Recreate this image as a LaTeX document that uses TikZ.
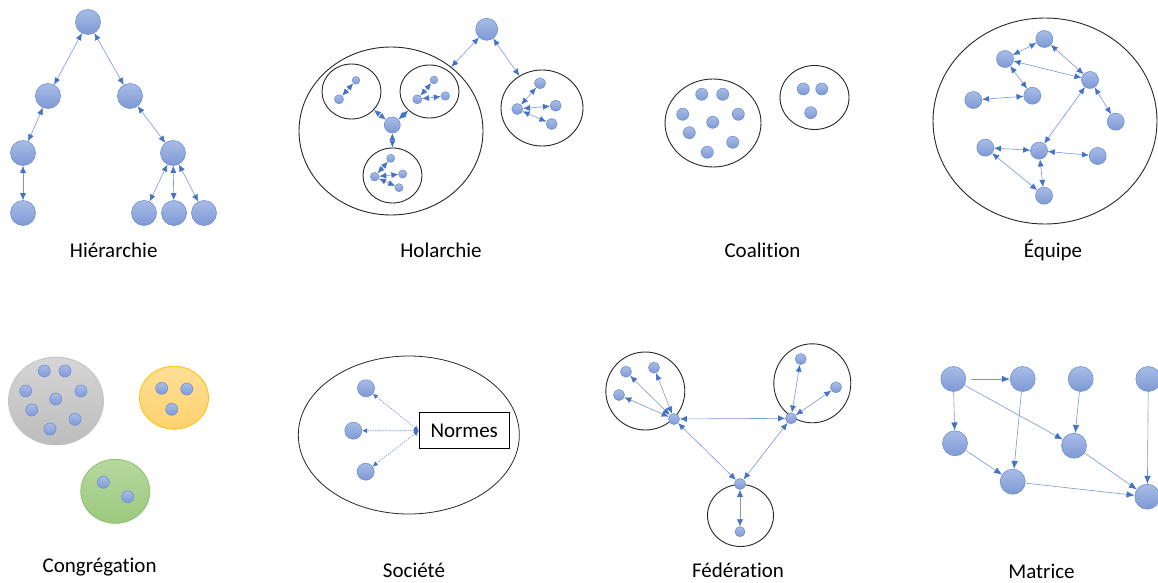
\documentclass[tikz,border=0pt]{standalone}
\usepackage{fontspec}
\setmainfont{Carlito}[Ligatures=NoCommon]
\usetikzlibrary{arrows.meta,shapes.geometric}
\definecolor{agenttop}{RGB}{168,188,230}
\definecolor{agentbot}{RGB}{126,153,212}
\definecolor{agentedge}{RGB}{112,144,210}
\definecolor{headblue}{RGB}{68,114,196}
\definecolor{lineblue}{RGB}{118,152,216}
\definecolor{graytop}{RGB}{214,214,214}
\definecolor{graybot}{RGB}{188,188,188}
\definecolor{yellowtop}{RGB}{255,222,150}
\definecolor{yellowbot}{RGB}{255,210,110}
\definecolor{yellowedge}{RGB}{255,192,0}
\definecolor{greentop}{RGB}{182,216,160}
\definecolor{greenbot}{RGB}{156,200,126}
\definecolor{greenedge}{RGB}{140,192,106}
\tikzset{
  agent/.style={circle,draw=agentedge,line width=0.6pt,top color=agenttop,bottom color=agentbot,inner sep=0pt,minimum size=#1},
  agent/.default=12pt,
  grp/.style={ellipse,draw=black!85,line width=0.9pt,inner sep=0pt},
  link/.style={draw=lineblue,line width=0.6pt,{Latex[length=7pt,width=6pt,color=headblue]}-{Latex[length=7pt,width=6pt,color=headblue]}},
  onelink/.style={draw=lineblue,line width=0.6pt,-{Latex[length=8pt,width=6.5pt,color=headblue]}},
  normlink/.style={draw=lineblue,line width=0.6pt,dash pattern=on 1.5pt off 1pt,{Latex[length=5pt,width=5pt,color=headblue]}-{Latex[length=5pt,width=5pt,color=headblue]}},
  lbl/.style={font=\fontsize{21}{25}\selectfont,anchor=base}
}
\begin{document}
\begin{tikzpicture}[x=1pt,y=-1pt]
\useasboundingbox (0,0) rectangle (1158,583);

\node[agent=25pt] (h0) at (88,22) {};
\node[agent=25pt] (h1) at (48,96) {};
\node[agent=25pt] (h2) at (130,96) {};
\node[agent=25pt] (h3) at (23,153) {};
\node[agent=25pt] (h4) at (173,153) {};
\node[agent=25pt] (h5) at (23,213) {};
\node[agent=25pt] (h6) at (144,213) {};
\node[agent=25pt] (h7) at (174,213) {};
\node[agent=25pt] (h8) at (204,213) {};
\draw[link] (h0) -- (h1);
\draw[link] (h0) -- (h2);
\draw[link] (h1) -- (h3);
\draw[link] (h3) -- (h5);
\draw[link] (h2) -- (h4);
\draw[link] (h4) -- (h6);
\draw[link] (h4) -- (h7);
\draw[link] (h4) -- (h8);
\node[lbl] (hlbl) at (113.7,257) {Hiérarchie};

\node[grp,minimum width=184pt,minimum height=168pt] (hbig) at (391,131) {};
\node[grp,minimum width=59pt,minimum height=55pt] (hgl) at (351.5,91.5) {};
\node[grp,minimum width=59pt,minimum height=53pt] (hgr) at (429.5,91.5) {};
\node[grp,minimum width=59pt,minimum height=55pt] (hgb) at (392.5,175.5) {};
\node[grp,minimum width=82pt,minimum height=76pt] (hgx) at (542,108) {};
\node[agent=22pt] (ha) at (486.7,29.3) {};
\node[agent=16pt] (hc) at (392.3,125) {};
\node[agent=7.5pt] (hl1) at (356,80.3) {};
\node[agent=9pt] (hl2) at (339,99.3) {};
\node[agent=7.5pt] (hr1) at (434,80) {};
\node[agent=9pt] (hr2) at (417.3,99.3) {};
\node[agent=8.5pt] (hr3) at (445.3,96) {};
\node[agent=8pt] (hb1) at (390.7,158.3) {};
\node[agent=8.5pt] (hb2) at (374.7,176.7) {};
\node[agent=8pt] (hb3) at (402.7,174) {};
\node[agent=8pt] (hb4) at (399,187.7) {};
\node[agent=11pt] (hx1) at (540,83.3) {};
\node[agent=11pt] (hx2) at (517.3,109) {};
\node[agent=11pt] (hx3) at (555.7,105.7) {};
\node[agent=11pt] (hx4) at (551.7,124) {};
\draw[link] (ha) -- (hbig);
\draw[link] (ha) -- (hgx);
\draw[link] (hc) -- (hgl);
\draw[link] (hc) -- (hgr);
\draw[link] (hc) -- (hgb);
\draw[link] (hl2) -- (hl1);
\draw[link] (hr2) -- (hr1);
\draw[link] (hr2) -- (hr3);
\draw[link] (hb2) -- (hb1);
\draw[link] (hb2) -- (hb3);
\draw[link] (hb2) -- (hb4);
\draw[link] (hx2) -- (hx1);
\draw[link] (hx2) -- (hx3);
\draw[link] (hx2) -- (hx4);
\node[lbl] (holbl) at (441,257) {Holarchie};

\node[grp,minimum width=96pt,minimum height=88pt] (cbig) at (713,123) {};
\node[grp,minimum width=69pt,minimum height=64pt] (csmall) at (814.5,97.5) {};
\node[agent] (c1) at (701.7,94.3) {};
\node[agent] (c2) at (722.7,94.3) {};
\node[agent] (c3) at (682.7,114.3) {};
\node[agent] (c4) at (738.3,114.3) {};
\node[agent] (c5) at (712.7,122.3) {};
\node[agent] (c6) at (689.3,132.7) {};
\node[agent] (c7) at (732.7,142.3) {};
\node[agent] (c8) at (707.3,152.3) {};
\node[agent] (c9) at (803.3,89) {};
\node[agent] (c10) at (821.7,89) {};
\node[agent] (c11) at (810.7,112.7) {};
\node[lbl] (clbl) at (762.5,257) {Coalition};

\node[grp,minimum width=224pt,minimum height=206pt] (ebig) at (1045,121) {};
\node[agent=17pt] (e1) at (1044.3,39) {};
\node[agent=17pt] (e2) at (1005,59) {};
\node[agent=17pt] (e3) at (1090,80) {};
\node[agent=17pt] (e4) at (973.3,100) {};
\node[agent=17pt] (e5) at (1032.3,95.7) {};
\node[agent=17pt] (e6) at (1115.7,121.7) {};
\node[agent=17pt] (e7) at (985.3,147.7) {};
\node[agent=17pt] (e8) at (1039,150.7) {};
\node[agent=17pt] (e9) at (1097.7,156) {};
\node[agent=17pt] (e10) at (1044,195.7) {};
\draw[link] (e1) -- (e2);
\draw[link] (e1) -- (e3);
\draw[link] (e2) -- (e3);
\draw[link] (e2) -- (e5);
\draw[link] (e4) -- (e5);
\draw[link] (e3) -- (e6);
\draw[link] (e3) -- (e8);
\draw[link] (e7) -- (e8);
\draw[link] (e8) -- (e9);
\draw[link] (e8) -- (e10);
\draw[link] (e7) -- (e10);
\node[lbl] (elbl) at (1053,257) {Équipe};

\node[ellipse,draw=graybot!90,line width=0.8pt,top color=graytop,bottom color=graybot,inner sep=0pt,minimum width=95pt,minimum height=88pt] (gg) at (56,401) {};
\node[ellipse,draw=yellowedge,line width=0.8pt,top color=yellowtop,bottom color=yellowbot,inner sep=0pt,minimum width=69pt,minimum height=63pt] (gy) at (174,397.7) {};
\node[ellipse,draw=greenedge,line width=0.8pt,top color=greentop,bottom color=greenbot,inner sep=0pt,minimum width=69pt,minimum height=64pt] (gv) at (115.3,491.3) {};
\node[agent] (g1) at (44.3,371) {};
\node[agent] (g2) at (65,371) {};
\node[agent] (g3) at (25.7,391) {};
\node[agent] (g4) at (81,391) {};
\node[agent] (g5) at (55.7,399) {};
\node[agent] (g6) at (31.7,410) {};
\node[agent] (g7) at (75,419.3) {};
\node[agent] (g8) at (50,429) {};
\node[agent] (g9) at (161.7,388.3) {};
\node[agent] (g10) at (186.7,389) {};
\node[agent] (g11) at (171.7,409.3) {};
\node[agent] (g12) at (103.3,482.3) {};
\node[agent] (g13) at (127.7,496.7) {};
\node[lbl] (glbl) at (99.6,572) {Congrégation};

\node[grp,line width=0.8pt,minimum width=221pt,minimum height=158pt] (sbig) at (408.8,435) {};
\node[agent=17pt] (s1) at (366,388.3) {};
\node[agent=17pt] (s2) at (353.3,430.7) {};
\node[agent=17pt] (s3) at (365.7,471.7) {};
\node[draw=black,line width=0.8pt,fill=white,inner sep=0pt,minimum width=90pt,minimum height=36pt,font=\fontsize{21}{25}\selectfont] (norm) at (464.2,430.8) {Normes};
\draw[normlink] (norm.west) -- (s1);
\draw[normlink] (norm.west) -- (s2);
\draw[normlink] (norm.west) -- (s3);
\node[lbl] (slbl) at (414,577) {Société};

\node[grp,minimum width=79pt,minimum height=78pt] (fl) at (645.3,391) {};
\node[grp,minimum width=77pt,minimum height=79pt] (fr) at (812.3,383.3) {};
\node[grp,minimum width=66pt,minimum height=62pt] (fb) at (740.5,515.5) {};
\node[agent=11pt] (f1) at (674,419) {};
\node[agent=11pt] (f2) at (791,418.3) {};
\node[agent=11pt] (f3) at (740,484) {};
\node[agent=11pt] (f4) at (626,371.7) {};
\node[agent=11pt] (f5) at (654,367.7) {};
\node[agent=11pt] (f6) at (619,395) {};
\node[agent=11pt] (f7) at (800.7,359) {};
\node[agent=11pt] (f8) at (836,387.3) {};
\node[agent=10pt] (f9) at (740,531.7) {};
\draw[link] (f1) -- (f4);
\draw[link] (f1) -- (f5);
\draw[link] (f1) -- (f6);
\draw[link] (f2) -- (f7);
\draw[link] (f2) -- (f8);
\draw[link] (f1) -- (f2);
\draw[link] (f1) -- (f3);
\draw[link] (f2) -- (f3);
\draw[link] (f3) -- (f9);
\node[lbl] (flbl) at (738,577) {Fédération};

\node[agent=25pt] (m1) at (953.3,379) {};
\node[agent=25pt] (m2) at (1022.7,379) {};
\node[agent=25pt] (m3) at (1080.7,379) {};
\node[agent=25pt] (m4) at (1148.3,379) {};
\node[agent=25pt] (m5) at (955,443.3) {};
\node[agent=25pt] (m6) at (1074,445.7) {};
\node[agent=25pt] (m7) at (1012.7,481.7) {};
\node[agent=25pt] (m8) at (1147.3,496.7) {};
\draw[onelink,shorten <=5pt] (m1) -- (m2);
\draw[onelink] (m1) -- (m5);
\draw[onelink] (m1) -- (m6);
\draw[onelink] (m2) -- (m7);
\draw[onelink] (m3) -- (m6);
\draw[onelink] (m4) -- (m8);
\draw[onelink] (m5) -- (m7);
\draw[onelink] (m7) -- (m8);
\draw[onelink] (m6) -- (m8);
\node[lbl] (mlbl) at (1041.5,578) {Matrice};
\end{tikzpicture}
\end{document}
